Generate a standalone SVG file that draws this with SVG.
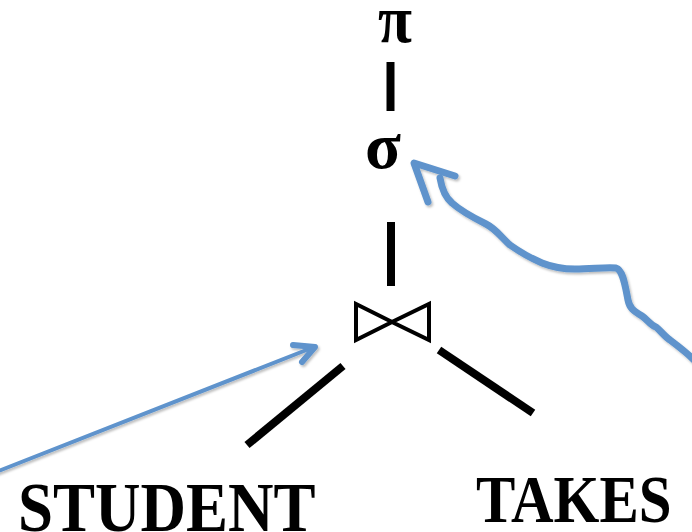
<svg xmlns="http://www.w3.org/2000/svg" width="692" height="532" viewBox="0 0 692 532">
<style>
.op{font-family:"Liberation Serif","Times New Roman",serif;font-weight:bold;fill:#000}
.edge{stroke:#000;stroke-width:8;fill:none}
.blue{stroke:#5E93CC;fill:none;stroke-linecap:round;stroke-linejoin:round}
</style>
<defs>
<filter id="sh" x="-10%" y="-10%" width="120%" height="120%">
<feDropShadow dx="1.5" dy="2" stdDeviation="1.2" flood-color="#000" flood-opacity="0.25"/>
</filter>
</defs>
<rect width="692" height="532" fill="#fff"/>
<g id="connectors">
<line class="edge" x1="390.5" y1="62" x2="390.5" y2="111"/>
<line class="edge" x1="391" y1="222" x2="391" y2="286"/>
<line class="edge" x1="343" y1="366" x2="247" y2="445"/>
<line class="edge" x1="439" y1="350" x2="533" y2="413"/>
</g>
<g id="node-pi"><text class="op" transform="translate(395,42) scale(1,1.08)" font-size="62" text-anchor="middle">π</text></g>
<g id="node-sigma"><text class="op" transform="translate(383,168) scale(1,1.0)" font-size="66" text-anchor="middle">σ</text></g>
<g id="node-join">
<path d="M356,304 L356,340 L392,322 Z M429,304 L429,340 L392,322 Z" fill="none" stroke="#000" stroke-width="4" stroke-linejoin="miter"/>
</g>
<g id="node-student"><text class="op" transform="translate(18,531) scale(1,1.1)" font-size="63">STUDENT</text></g>
<g id="node-takes"><text class="op" transform="translate(476,522) scale(1,1.15)" font-size="59">TAKES</text></g>
<g id="annotations" filter="url(#sh)">
<line class="blue" x1="-4" y1="472" x2="314" y2="347" stroke-width="4"/>
<polyline class="blue" points="293,345 315,347 302,362" stroke-width="6"/>
<path class="blue" stroke-width="7" d="M440,178 C442,190 446,198 452,203 C462,212 474,218 486,224 C496,229 502,238 510,245 C520,252 530,258 542,263 C552,267 562,269 575,269 C592,269 606,267 616,268 C623,270 625,285 628,300 C630,310 636,312 642,316 C648,320 650,325 656,327 C660,330 664,336 670,340 C678,346 686,352 694,360"/>
<polyline class="blue" points="455,176 414,163 428,202" stroke-width="7"/>
</g>
</svg>
